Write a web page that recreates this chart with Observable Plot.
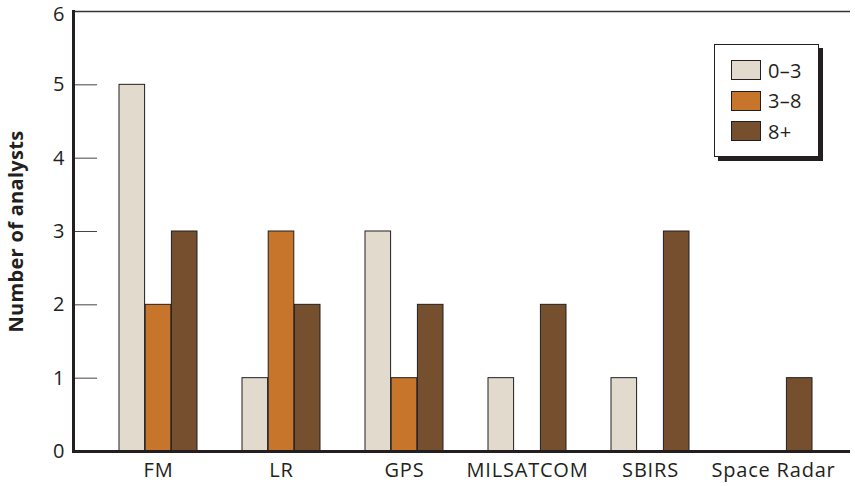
<!DOCTYPE html>
<html><head><meta charset="utf-8">
<script src="https://cdn.jsdelivr.net/npm/d3@7"></script>
<script src="https://cdn.jsdelivr.net/npm/@observablehq/plot@0.6"></script>
<style>
body{margin:0;background:#fff;font-family:"Open Sans",sans-serif;color:#231f20}
#chart{position:relative;width:855px;height:486px;}
#legend{position:absolute;left:714px;top:44px;width:105px;height:113px;border:1.5px solid #231f20;background:#fff;box-shadow:4px 4px 0 #231f20;box-sizing:border-box;padding:15px 0 0 16px}
.item{display:flex;align-items:center;height:20px;margin-bottom:10.5px;font-size:20px;letter-spacing:0.3px}
.sw{width:30px;height:20px;border:1px solid #231f20;box-sizing:border-box;margin-right:7px}
svg [aria-label="x-axis tick label"] text{letter-spacing:0.8px}
svg [aria-label="y-axis label"] text, svg [aria-label="y-axis label"]{font-weight:bold;font-size:20px;letter-spacing:0.3px}
</style>
</head><body>
<div id="chart"></div>
<script>
const categories = ["FM","LR","GPS","MILSATCOM","SBIRS","Space Radar"];
const series = ["0–3","3–8","8+"];
const years0to3 = [5,1,3,1,1,0];
const years3to8 = [2,3,1,0,0,0];
const years8plus = [3,2,2,2,3,1];
const yTicks = [0,1,2,3,4,5,6];
const colors = ["#e3dace","#c6752b","#76502e"];

const seriesValues = [years0to3, years3to8, years8plus];
const table = [];
series.forEach((s,j)=>categories.forEach((c,i)=>table.push({category:c, series:s, value:seriesValues[j][i]})));

const W=855,H=486,mL=73,mR=5,mT=11,mB=35;
const pInner=0.362,pOuter=0.334,align=0.55;
const step=(W-mL-mR)/(categories.length - pInner + 2*pOuter);
const bw=step*(1-pInner);
const sub=bw/series.length;
const yMax = yTicks[yTicks.length-1];

const barMarks = series.map((s,j)=>Plot.barY(table.filter(d=>d.series===s && d.value>0), {
  x:"category", y:"value", fill:"series", stroke:"#231f20", strokeWidth:1,
  insetLeft:j*sub, insetRight:(series.length-1-j)*sub
}));

const plot = Plot.plot({
  width:W, height:H, marginLeft:mL, marginRight:mR, marginTop:mT, marginBottom:mB,
  style:{fontFamily:"Open Sans, sans-serif", color:"#231f20", background:"#fff"},
  x:{domain:categories, type:"band", paddingInner:pInner, paddingOuter:pOuter, align},
  y:{domain:[0,yMax]},
  color:{domain:series, range:colors},
  marks:[
    ...barMarks,
    Plot.axisY({ticks:yTicks, tickSize:-24, tickFormat:()=>"", label:null, stroke:"#444", strokeWidth:1}),
    Plot.axisY({ticks:yTicks.filter(t=>t<yMax), tickSize:0, tickPadding:9, fontSize:20, tickFormat:d3.format("d"), label:"Number of analysts", labelAnchor:"center", labelArrow:false, labelOffset:65}),
    Plot.axisY({ticks:[yMax], tickSize:0, tickPadding:9, dy:3, fontSize:20, tickFormat:d3.format("d"), label:null}),
    Plot.axisX({tickSize:0, tickPadding:11, fontSize:20, label:null}),
    Plot.ruleY([yMax], {stroke:"#333", strokeWidth:1.5}),
    Plot.ruleY([0], {stroke:"#231f20", strokeWidth:3}),
    Plot.frame({anchor:"left", stroke:"#231f20", strokeWidth:3})
  ]
});
document.getElementById("chart").appendChild(plot);

const color = plot.scale("color");
const legend = document.createElement("div");
legend.id="legend";
color.domain.forEach((s,i)=>{
  const it=document.createElement("div"); it.className="item";
  const sw=document.createElement("div"); sw.className="sw"; sw.style.background=color.range[i];
  const t=document.createElement("span"); t.textContent=s;
  it.appendChild(sw); it.appendChild(t); legend.appendChild(it);
});
document.getElementById("chart").appendChild(legend);
</script>
</body></html>
